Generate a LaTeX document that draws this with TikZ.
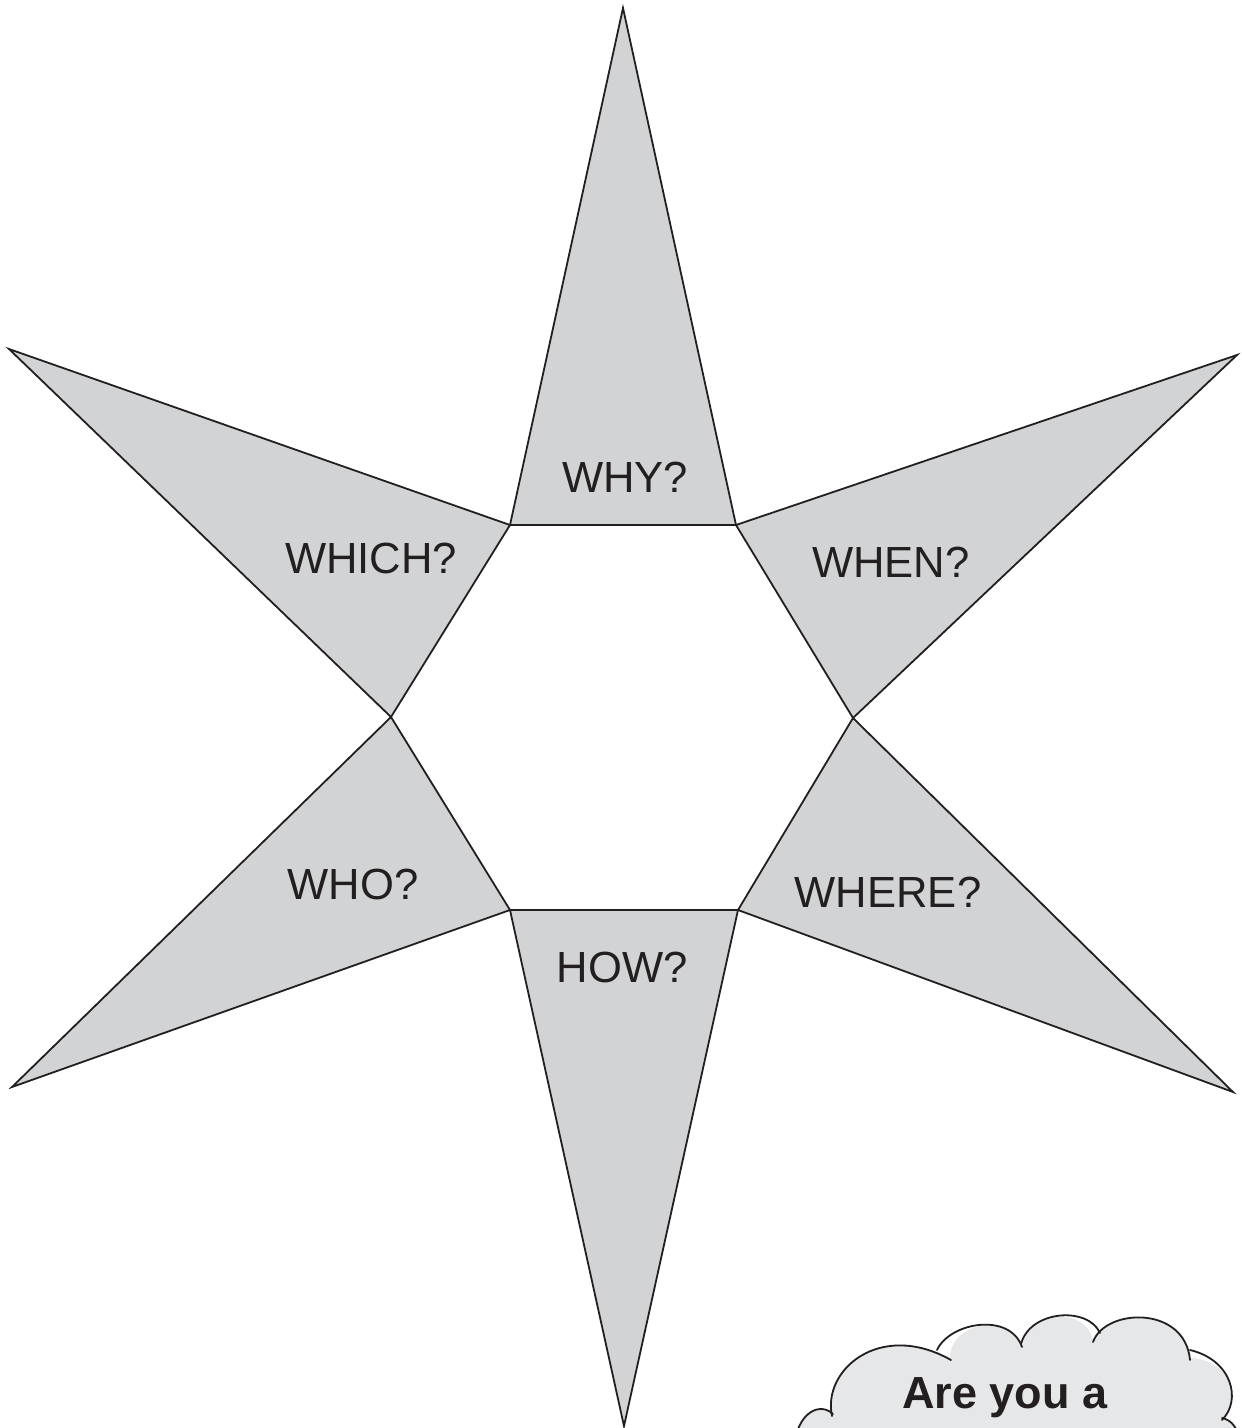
\documentclass[tikz,border=0pt]{standalone}
\usepackage{fontspec}
\setmainfont{Liberation Sans}
\definecolor{armgray}{HTML}{D1D3D4}
\definecolor{cloudgray}{HTML}{E6E7E8}
\definecolor{inkc}{HTML}{231F20}
\begin{document}
\begin{tikzpicture}[x=1pt,y=-1pt,
  arm/.style={fill=armgray,draw=inkc,line width=1.8pt,line join=miter},
  qlabel/.style={anchor=base,inner sep=0pt,text=inkc,font=\fontsize{43.6}{50}\selectfont},
  cloudline/.style={draw=inkc,line width=1.8pt,line cap=round}]
\useasboundingbox (0,0) rectangle (1242,1428);
% hexagon corners
\coordinate (h1) at (510,525);
\coordinate (h2) at (736,525);
\coordinate (h3) at (853,718);
\coordinate (h4) at (738,910);
\coordinate (h5) at (510,910);
\coordinate (h6) at (391,717);
% tips
\coordinate (tTop) at (623,8);
\coordinate (tUR) at (1237,355);
\coordinate (tLR) at (1233,1092);
\coordinate (tBot) at (624,1426);
\coordinate (tLL) at (12,1087);
\coordinate (tUL) at (9,349);
% arms
\draw[arm] (h1) -- (tTop) -- (h2) -- cycle;
\draw[arm] (h2) -- (tUR) -- (h3) -- cycle;
\draw[arm] (h3) -- (tLR) -- (h4) -- cycle;
\draw[arm] (h4) -- (tBot) -- (h5) -- cycle;
\draw[arm] (h5) -- (tLL) -- (h6) -- cycle;
\draw[arm] (h6) -- (tUL) -- (h1) -- cycle;
% labels
\node[qlabel] (why) at (625,492) {WHY?};
\node[qlabel] (when) at (891,577) {WHEN?};
\node[qlabel] (which) at (371,573) {WHICH?};
\node[qlabel] (who) at (353,899) {WHO?};
\node[qlabel] (where) at (888,907) {WHERE?};
\node[qlabel] (how) at (622,982) {HOW?};
% cloud
\fill[cloudgray] (795,1440) .. controls (800,1412) and (820,1402) .. (832,1412)
  .. controls (822,1370) and (880,1320) .. (950,1358)
  .. controls (950,1322) and (1010,1312) .. (1022,1346)
  .. controls (1030,1310) and (1088,1306) .. (1093,1342)
  .. controls (1105,1308) and (1185,1305) .. (1190,1358)
  .. controls (1232,1360) and (1242,1400) .. (1222,1420)
  .. controls (1232,1420) and (1237,1428) .. (1240,1440) -- cycle;
\draw[cloudline] (795,1440) .. controls (800,1412) and (820,1402) .. (833,1414);
\draw[cloudline] (832,1416) .. controls (822,1370) and (880,1320) .. (951,1360);
\draw[cloudline] (937,1350) .. controls (950,1322) and (1010,1312) .. (1022,1347);
\draw[cloudline] (1021,1344) .. controls (1030,1310) and (1088,1306) .. (1100,1333);
\draw[cloudline] (1093,1342) .. controls (1105,1308) and (1185,1305) .. (1190,1360);
\draw[cloudline] (1190,1350) .. controls (1232,1360) and (1242,1400) .. (1222,1420);
\draw[cloudline] (1222,1418) .. controls (1232,1420) and (1237,1428) .. (1240,1440);
\node[anchor=base,inner sep=0pt,text=inkc,font=\fontsize{45}{52}\selectfont\bfseries] (cloudtext) at (1005,1408) {Are you a};
\end{tikzpicture}
\end{document}
